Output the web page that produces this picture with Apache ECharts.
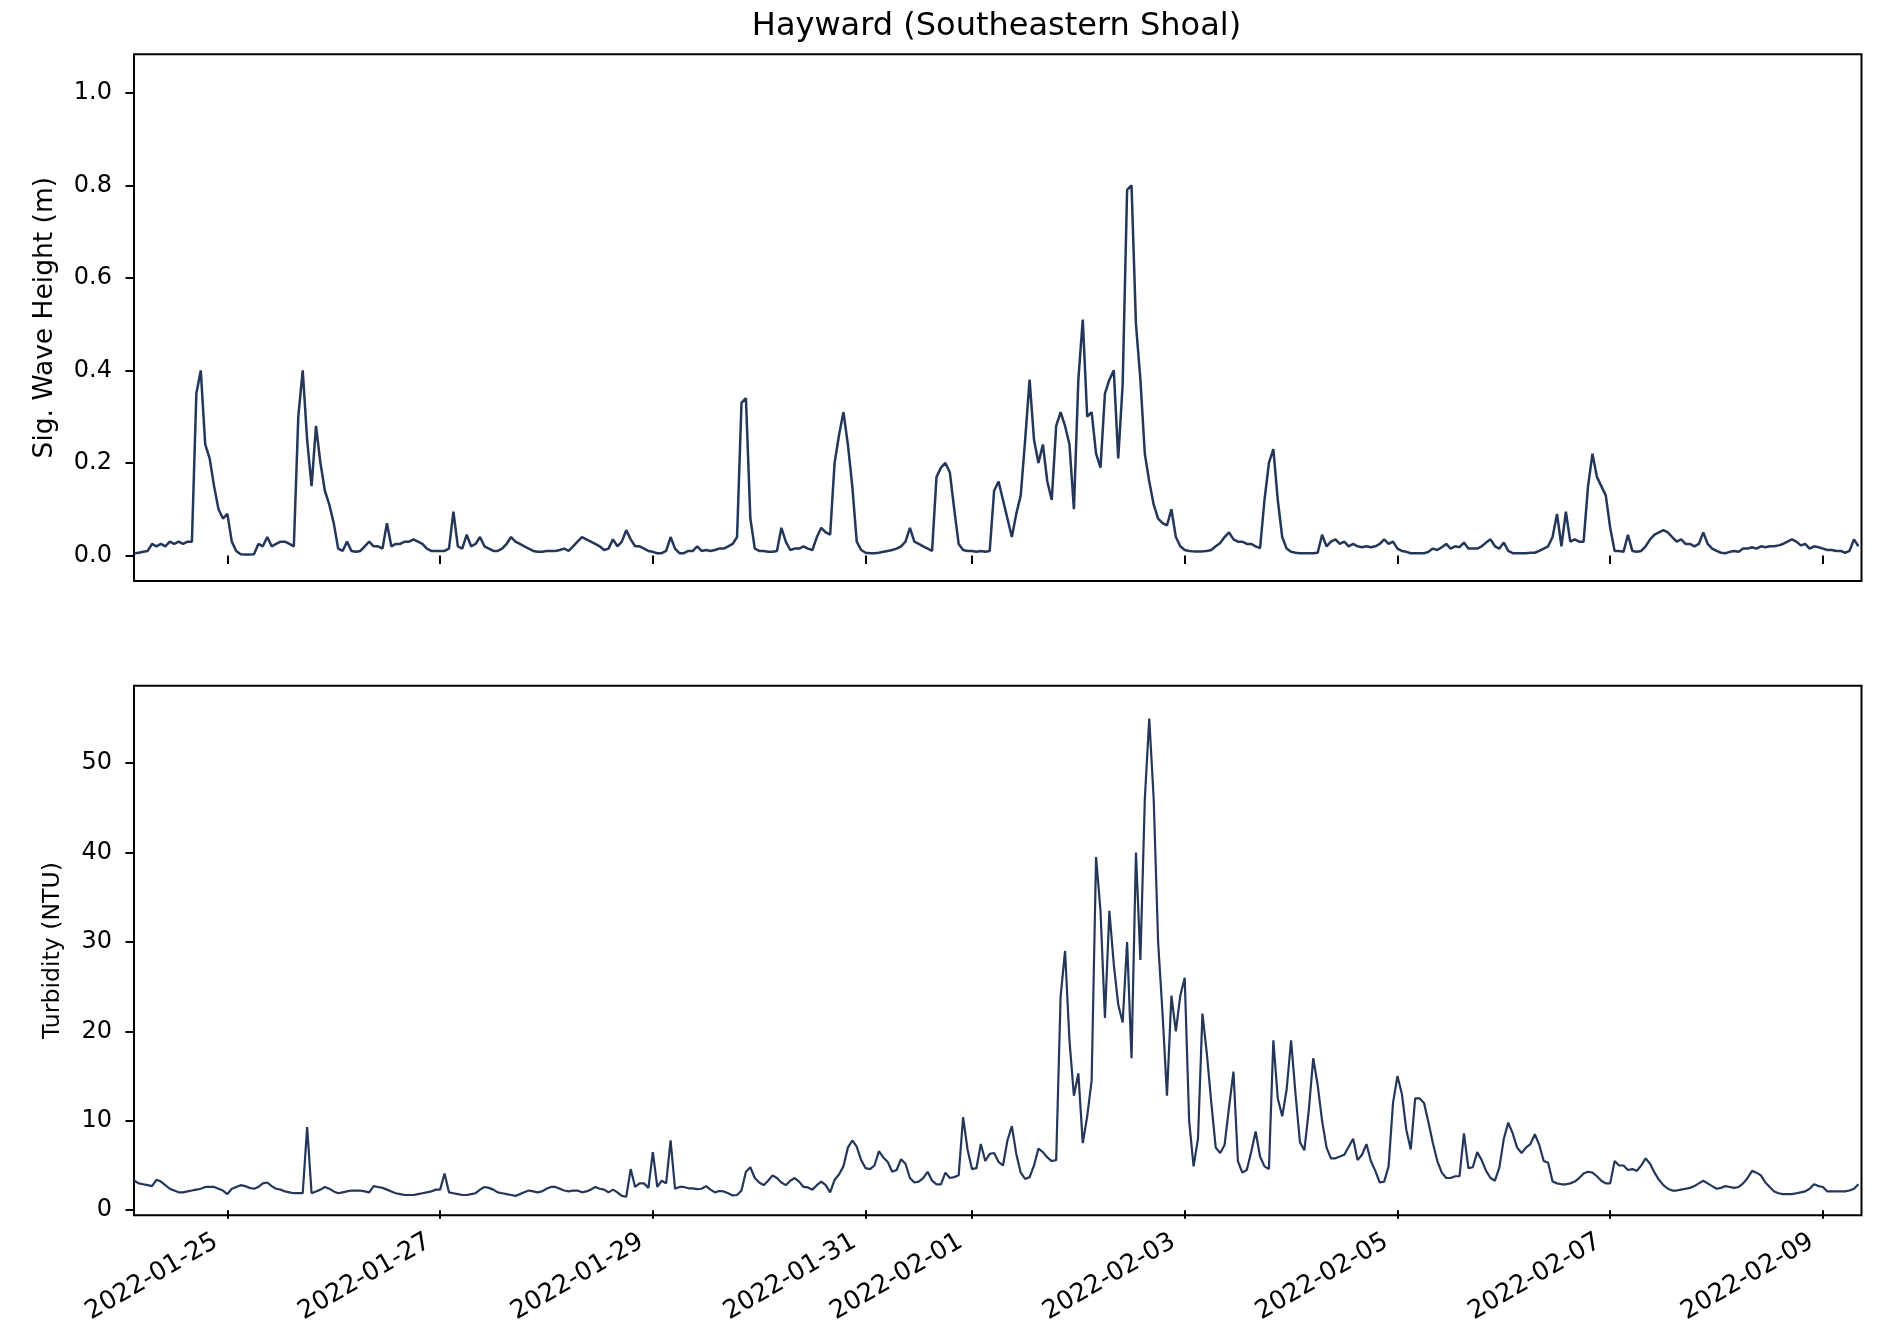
<!DOCTYPE html>
<html>
<head>
<meta charset="utf-8">
<script src="https://cdn.jsdelivr.net/npm/echarts@6/dist/echarts.min.js"></script>
<style>
html,body{margin:0;padding:0;background:#fff;}
#chart{width:1879px;height:1335px;}
</style>
</head>
<body>
<div id="chart"></div>
<script>
// ---- data (hourly samples, first sample at startTime, UTC) ----
const startTime = '2022-01-24T03:00:00Z';
const stepMinutes = 60;
const axisStart = '2022-01-24T02:56:00Z';
const axisEnd = '2022-02-09T08:42:00Z';
const tickDates = ['2022-01-25','2022-01-27','2022-01-29','2022-01-31','2022-02-01','2022-02-03','2022-02-05','2022-02-07','2022-02-09'];
const waveTicks = [0, 0.2, 0.4, 0.6, 0.8, 1.0];
const turbTicks = [0, 10, 20, 30, 40, 50];

const waveHeight = [
0.005,0.006,0.008,0.01,0.025,0.02,0.025,0.02,0.03,0.025,0.03,0.025,0.03,0.03,0.35,0.40,0.24,0.21,0.15,0.10,0.08,0.09,0.03,0.01,
0.003,0.002,0.002,0.003,0.025,0.02,0.04,0.02,0.025,0.03,0.03,0.025,0.02,0.30,0.40,0.25,0.15,0.28,0.20,0.14,0.11,0.07,0.015,0.01,
0.03,0.01,0.008,0.01,0.02,0.03,0.02,0.02,0.015,0.07,0.02,0.025,0.025,0.03,0.03,0.035,0.03,0.025,0.015,0.01,0.01,0.01,0.01,0.015,
0.095,0.02,0.015,0.045,0.02,0.025,0.04,0.02,0.015,0.01,0.01,0.015,0.025,0.04,0.03,0.025,0.02,0.015,0.01,0.008,0.008,0.01,0.01,0.01,
0.012,0.015,0.01,0.02,0.03,0.04,0.035,0.03,0.025,0.02,0.012,0.015,0.035,0.02,0.03,0.055,0.035,0.02,0.02,0.015,0.01,0.008,0.005,0.005,
0.01,0.04,0.015,0.005,0.005,0.01,0.01,0.02,0.01,0.012,0.01,0.012,0.015,0.015,0.02,0.025,0.04,0.33,0.34,0.08,0.015,0.01,0.01,0.008,
0.008,0.01,0.06,0.03,0.012,0.015,0.015,0.02,0.015,0.012,0.04,0.06,0.05,0.045,0.2,0.26,0.31,0.24,0.15,0.03,0.012,0.006,0.005,0.005,
0.006,0.008,0.01,0.012,0.015,0.02,0.03,0.06,0.03,0.025,0.02,0.015,0.01,0.17,0.19,0.2,0.18,0.1,0.025,0.012,0.01,0.01,0.008,0.01,
0.008,0.01,0.14,0.16,0.12,0.08,0.04,0.09,0.13,0.25,0.38,0.25,0.2,0.24,0.16,0.12,0.28,0.31,0.28,0.24,0.1,0.38,0.51,0.3,
0.31,0.22,0.19,0.35,0.38,0.40,0.21,0.37,0.79,0.80,0.50,0.38,0.22,0.16,0.11,0.08,0.07,0.065,0.10,0.04,0.02,0.012,0.01,0.009,
0.009,0.009,0.01,0.012,0.02,0.027,0.04,0.05,0.035,0.03,0.03,0.025,0.025,0.02,0.016,0.12,0.2,0.23,0.12,0.04,0.015,0.008,0.006,0.005,
0.005,0.005,0.005,0.006,0.045,0.02,0.03,0.035,0.025,0.03,0.02,0.025,0.02,0.018,0.02,0.018,0.02,0.025,0.035,0.025,0.03,0.015,0.01,0.008,
0.005,0.005,0.005,0.005,0.008,0.015,0.012,0.018,0.025,0.015,0.02,0.018,0.028,0.015,0.015,0.015,0.02,0.028,0.035,0.02,0.015,0.028,0.01,0.005,
0.005,0.005,0.005,0.006,0.006,0.01,0.015,0.02,0.04,0.09,0.02,0.095,0.03,0.035,0.03,0.03,0.15,0.22,0.17,0.15,0.13,0.06,0.01,0.01,
0.008,0.045,0.01,0.008,0.01,0.02,0.035,0.045,0.05,0.055,0.05,0.04,0.03,0.035,0.025,0.025,0.02,0.025,0.05,0.025,0.015,0.01,0.006,0.005,
0.008,0.01,0.008,0.015,0.015,0.018,0.015,0.02,0.018,0.02,0.02,0.022,0.025,0.03,0.035,0.03,0.022,0.025,0.015,0.02,0.018,0.015,0.012,0.012,
0.01,0.01,0.006,0.01,0.035,0.02
];

const turbidity = [
3.3,3.0,2.9,2.8,2.7,3.4,3.2,2.8,2.4,2.2,2.0,2.0,2.1,2.2,2.3,2.4,2.6,2.6,2.6,2.4,2.2,1.8,2.4,2.6,
2.8,2.7,2.5,2.4,2.6,3.0,3.1,2.7,2.4,2.3,2.1,2.0,1.9,1.9,1.9,9.3,1.9,2.1,2.3,2.6,2.4,2.1,1.9,2.0,
2.1,2.2,2.2,2.2,2.1,2.0,2.7,2.6,2.5,2.3,2.1,1.9,1.8,1.7,1.7,1.7,1.8,1.9,2.0,2.1,2.3,2.3,4.1,2.0,
1.9,1.8,1.7,1.7,1.8,1.9,2.3,2.6,2.5,2.3,2.0,1.9,1.8,1.7,1.6,1.8,2.0,2.2,2.1,2.0,2.1,2.4,2.6,2.6,
2.4,2.2,2.1,2.2,2.2,2.0,2.1,2.3,2.6,2.4,2.3,2.0,2.3,2.0,1.6,1.5,4.6,2.6,3.0,3.0,2.5,6.5,2.6,3.3,
3.0,7.8,2.4,2.6,2.6,2.45,2.45,2.35,2.4,2.7,2.3,2.0,2.15,2.1,1.9,1.65,1.7,2.2,4.3,4.8,3.6,3.1,2.8,3.3,
3.9,3.6,3.1,2.8,3.3,3.6,3.2,2.6,2.55,2.3,2.8,3.2,2.8,2.0,3.4,4.0,4.9,7.0,7.8,7.1,5.6,4.7,4.6,5.0,
6.6,5.9,5.4,4.3,4.5,5.7,5.2,3.6,3.1,3.2,3.6,4.3,3.3,2.9,2.9,4.2,3.6,3.7,3.9,10.4,6.8,4.6,4.7,7.4,
5.5,6.3,6.4,5.4,5.0,7.8,9.4,6.3,4.2,3.5,3.7,5.0,6.9,6.5,5.9,5.5,5.6,23.9,29.0,19.0,12.8,15.3,7.5,10.5,
14.5,39.5,33.5,21.5,33.5,27.5,23,21,30,17,40,28,46,55,46,30,22,12.8,24,20,24,26,10,4.9,
8.0,22,17.5,12,7.0,6.4,7.3,11.5,15.5,5.5,4.2,4.5,6.5,8.8,6.0,4.9,4.6,19,12.5,10.5,13.5,19,13,7.6,
6.7,11.2,17,14,10,7,5.8,5.8,6.0,6.2,7.1,8.0,5.6,6.2,7.4,5.5,4.4,3.1,3.2,4.9,12,15.0,13.0,9.0,
6.8,12.5,12.5,12.0,9.8,7.5,5.5,4.2,3.6,3.6,3.8,3.8,8.6,4.7,4.8,6.5,5.6,4.4,3.6,3.3,4.8,8.0,9.8,8.6,
7.0,6.4,7.0,7.4,8.5,7.3,5.5,5.3,3.2,3.0,2.9,2.9,3.0,3.2,3.6,4.1,4.3,4.2,3.8,3.3,3.0,3.0,5.5,5.0,
5.0,4.5,4.6,4.4,5.0,5.8,5.2,4.2,3.4,2.8,2.4,2.2,2.2,2.3,2.4,2.5,2.7,3.0,3.3,3.0,2.7,2.4,2.5,2.7,
2.6,2.5,2.6,3.0,3.6,4.4,4.2,3.9,3.1,2.6,2.1,1.9,1.8,1.8,1.8,1.9,2.0,2.1,2.4,2.9,2.7,2.6,2.1,2.1,
2.1,2.1,2.1,2.2,2.4,2.9
];

// ---- chart ----
const FONT = 'DejaVu Sans';
const LINE = '#24365a';
const t0 = Date.parse(startTime);
const stamp = i => t0 + i * stepMinutes * 60000;
const waveData = waveHeight.map((v, i) => [stamp(i), v]);
const turbData = turbidity.map((v, i) => [stamp(i), v]);
const tickTimes = tickDates.map(d => Date.parse(d + 'T00:00:00Z'));
const pad2 = n => String(n).padStart(2, '0');
const fmtDate = v => { const d = new Date(v); return d.getUTCFullYear() + '-' + pad2(d.getUTCMonth() + 1) + '-' + pad2(d.getUTCDate()); };

const tickStyle = (vals) => ({ show: true, inside: false, customValues: vals, length: 8.5, lineStyle: { color: '#000', width: 2 } });

function xAxisFor(gridIndex, withLabels) {
  return {
    type: 'value', gridIndex,
    min: Date.parse(axisStart), max: Date.parse(axisEnd),
    axisLine: { show: false }, splitLine: { show: false },
    axisTick: tickStyle(tickTimes),
    axisLabel: withLabels ? {
      show: true, customValues: tickTimes, formatter: fmtDate, rotate: 30, margin: 18,
      fontSize: 25.5, fontFamily: FONT, color: '#000', padding: [0, 13, 0, 0], hideOverlap: false
    } : { show: false }
  };
}

const option = {
  animation: false,
  backgroundColor: '#fff',
  textStyle: { fontFamily: FONT },
  title: {
    text: 'Hayward (Southeastern Shoal)', left: 991.5, top: 6, textAlign: 'center',
    textStyle: { fontSize: 32, fontWeight: 'normal', fontFamily: FONT, color: '#000' }
  },
  grid: [
    { left: 134, right: 17.5, top: 54.3, bottom: 754, show: true, borderColor: '#000', borderWidth: 2, backgroundColor: '#fff' },
    { left: 134, right: 17.5, top: 685.8, bottom: 119.7, show: true, borderColor: '#000', borderWidth: 2, backgroundColor: '#fff' }
  ],
  xAxis: [xAxisFor(0, false), xAxisFor(1, true)],
  yAxis: [
    {
      type: 'value', gridIndex: 0, min: -0.055, max: 1.083,
      name: 'Sig. Wave Height (m)', nameLocation: 'middle', nameGap: 75,
      nameTextStyle: { fontSize: 26.5, fontFamily: FONT, color: '#000', lineHeight: 27 },
      axisLine: { show: false }, splitLine: { show: false },
      axisTick: tickStyle(waveTicks),
      axisLabel: { customValues: waveTicks, formatter: v => Number(v).toFixed(1), fontSize: 24, margin: 22, color: '#000', fontFamily: FONT }
    },
    {
      type: 'value', gridIndex: 1, min: -0.57, max: 58.66,
      name: 'Turbidity (NTU)', nameLocation: 'middle', nameGap: 69,
      nameTextStyle: { fontSize: 23.6, fontFamily: FONT, color: '#000', lineHeight: 24 },
      axisLine: { show: false }, splitLine: { show: false },
      axisTick: tickStyle(turbTicks),
      axisLabel: { customValues: turbTicks, formatter: v => String(Math.round(v)), fontSize: 24, margin: 22, color: '#000', fontFamily: FONT }
    }
  ],
  series: [
    { type: 'line', xAxisIndex: 0, yAxisIndex: 0, data: waveData, showSymbol: false, symbol: 'none', silent: true,
      lineStyle: { color: LINE, width: 2.5 } },
    { type: 'line', xAxisIndex: 1, yAxisIndex: 1, data: turbData, showSymbol: false, symbol: 'none', silent: true,
      lineStyle: { color: LINE, width: 2.2 } }
  ]
};

const chart = echarts.init(document.getElementById('chart'), null, { renderer: 'canvas', width: 1879, height: 1335 });
chart.setOption(option);
</script>
</body>
</html>
